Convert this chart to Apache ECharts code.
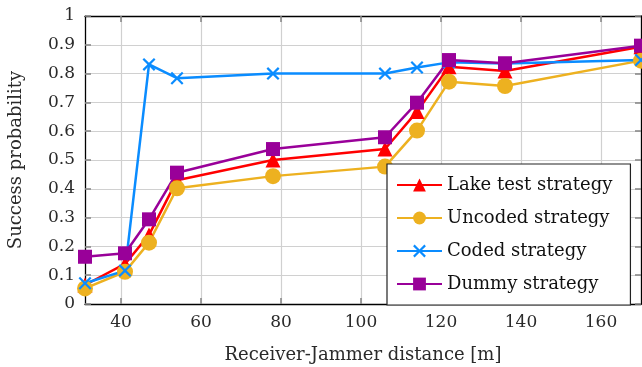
<!DOCTYPE html>
<html>
<head>
<meta charset="utf-8">
<script src="https://cdn.jsdelivr.net/npm/echarts@6/dist/echarts.min.js"></script>
<style>
html,body{margin:0;padding:0;background:#fff;}
#chart{width:642px;height:367px;}
</style>
</head>
<body>
<div id="chart"></div>
<script>
// Receiver-jammer distance in metres
const distances = [31, 41, 47, 54, 78, 106, 114, 122, 136, 170];
const xTicks = [40, 60, 80, 100, 120, 140, 160];

// Success probability per strategy
const lakeTest = [0.066, 0.139, 0.240, 0.430, 0.500, 0.538, 0.668, 0.824, 0.809, 0.893];
const uncoded  = [0.054, 0.112, 0.213, 0.402, 0.444, 0.477, 0.602, 0.772, 0.757, 0.845];
const coded    = [0.072, 0.116, 0.832, 0.784, 0.800, 0.800, 0.821, 0.839, 0.835, 0.847];
const dummy    = [0.164, 0.176, 0.294, 0.456, 0.538, 0.579, 0.699, 0.847, 0.836, 0.897];

const seriesNames = ['Lake test strategy', 'Uncoded strategy', 'Coded strategy', 'Dummy strategy'];

const FONT = 'DejaVu Serif';
const TEXT = '#2a2a2a';
const crossPath = 'path://M0,1.2L1.2,0L5,3.8L8.8,0L10,1.2L6.2,5L10,8.8L8.8,10L5,6.2L1.2,10L0,8.8L3.8,5Z';

function pairs(ys) { return distances.map((x, i) => [x, ys[i]]); }

function lineSeries(name, ys, color, symbol, size) {
  return {
    name: name,
    type: 'line',
    data: pairs(ys),
    color: color,
    symbol: symbol,
    symbolSize: size,
    showAllSymbol: true,
    clip: false,
    lineStyle: { color: color, width: 2.5 },
    itemStyle: { color: color, borderWidth: 0 },
    emphasis: { disabled: true },
    animation: false
  };
}

const gridLine = { show: true, lineStyle: { color: '#d0d0d0', width: 1.2 } };
const tickStyle = { show: true, inside: true, length: 6, lineStyle: { color: '#8a8a8a', width: 1.6 } };
const frameLine = { show: true, onZero: false, lineStyle: { color: '#000', width: 1.3 } };

const chart = echarts.init(document.getElementById('chart'), null, { renderer: 'canvas' });
chart.setOption({
  animation: false,
  backgroundColor: '#fff',
  textStyle: { fontFamily: FONT },
  grid: { left: 85, right: 1, top: 16, bottom: 63, outerBoundsMode: 'none', containLabel: false },
  xAxis: [{
    type: 'value',
    min: distances[0],
    max: distances[distances.length - 1],
    name: 'Receiver-Jammer distance [m]',
    nameLocation: 'middle',
    nameGap: 42,
    nameTextStyle: { fontFamily: FONT, fontSize: 18, color: TEXT },
    axisLine: frameLine,
    axisTick: Object.assign({ customValues: xTicks }, tickStyle),
    axisLabel: { customValues: xTicks, fontFamily: FONT, fontSize: 17, color: TEXT, margin: 10 },
    splitLine: gridLine
  }, {
    type: 'value',
    position: 'top',
    min: distances[0],
    max: distances[distances.length - 1],
    axisLine: frameLine,
    axisTick: Object.assign({ customValues: xTicks }, tickStyle),
    axisLabel: { show: false },
    splitLine: { show: false }
  }],
  yAxis: [{
    type: 'value',
    min: 0,
    max: 1,
    interval: 0.1,
    name: 'Success probability',
    nameLocation: 'middle',
    nameGap: 60,
    nameTextStyle: { fontFamily: FONT, fontSize: 18, color: TEXT },
    axisLine: frameLine,
    axisTick: tickStyle,
    axisLabel: { fontFamily: FONT, fontSize: 17, color: TEXT, margin: 10,
      formatter: v => String(+v.toFixed(1)) },
    splitLine: gridLine
  }, {
    type: 'value',
    position: 'right',
    min: 0,
    max: 1,
    interval: 0.1,
    axisLine: frameLine,
    axisTick: tickStyle,
    axisLabel: { show: false },
    splitLine: { show: false }
  }],
  legend: {
    orient: 'vertical',
    left: 387,
    top: 164,
    padding: [12, 18, 12, 9],
    itemWidth: 45,
    itemHeight: 16,
    itemGap: 15,
    backgroundColor: '#fff',
    borderColor: '#222',
    borderWidth: 1.2,
    borderRadius: 0,
    textStyle: { fontFamily: FONT, fontSize: 18, color: '#111' },
    data: seriesNames
  },
  series: [
    lineSeries(seriesNames[0], lakeTest, '#ff0000', 'triangle', 15),
    lineSeries(seriesNames[1], uncoded, '#edb120', 'circle', 16),
    lineSeries(seriesNames[2], coded, '#0a8cff', crossPath, 13),
    lineSeries(seriesNames[3], dummy, '#990099', 'rect', 14)
  ]
});
</script>
</body>
</html>
